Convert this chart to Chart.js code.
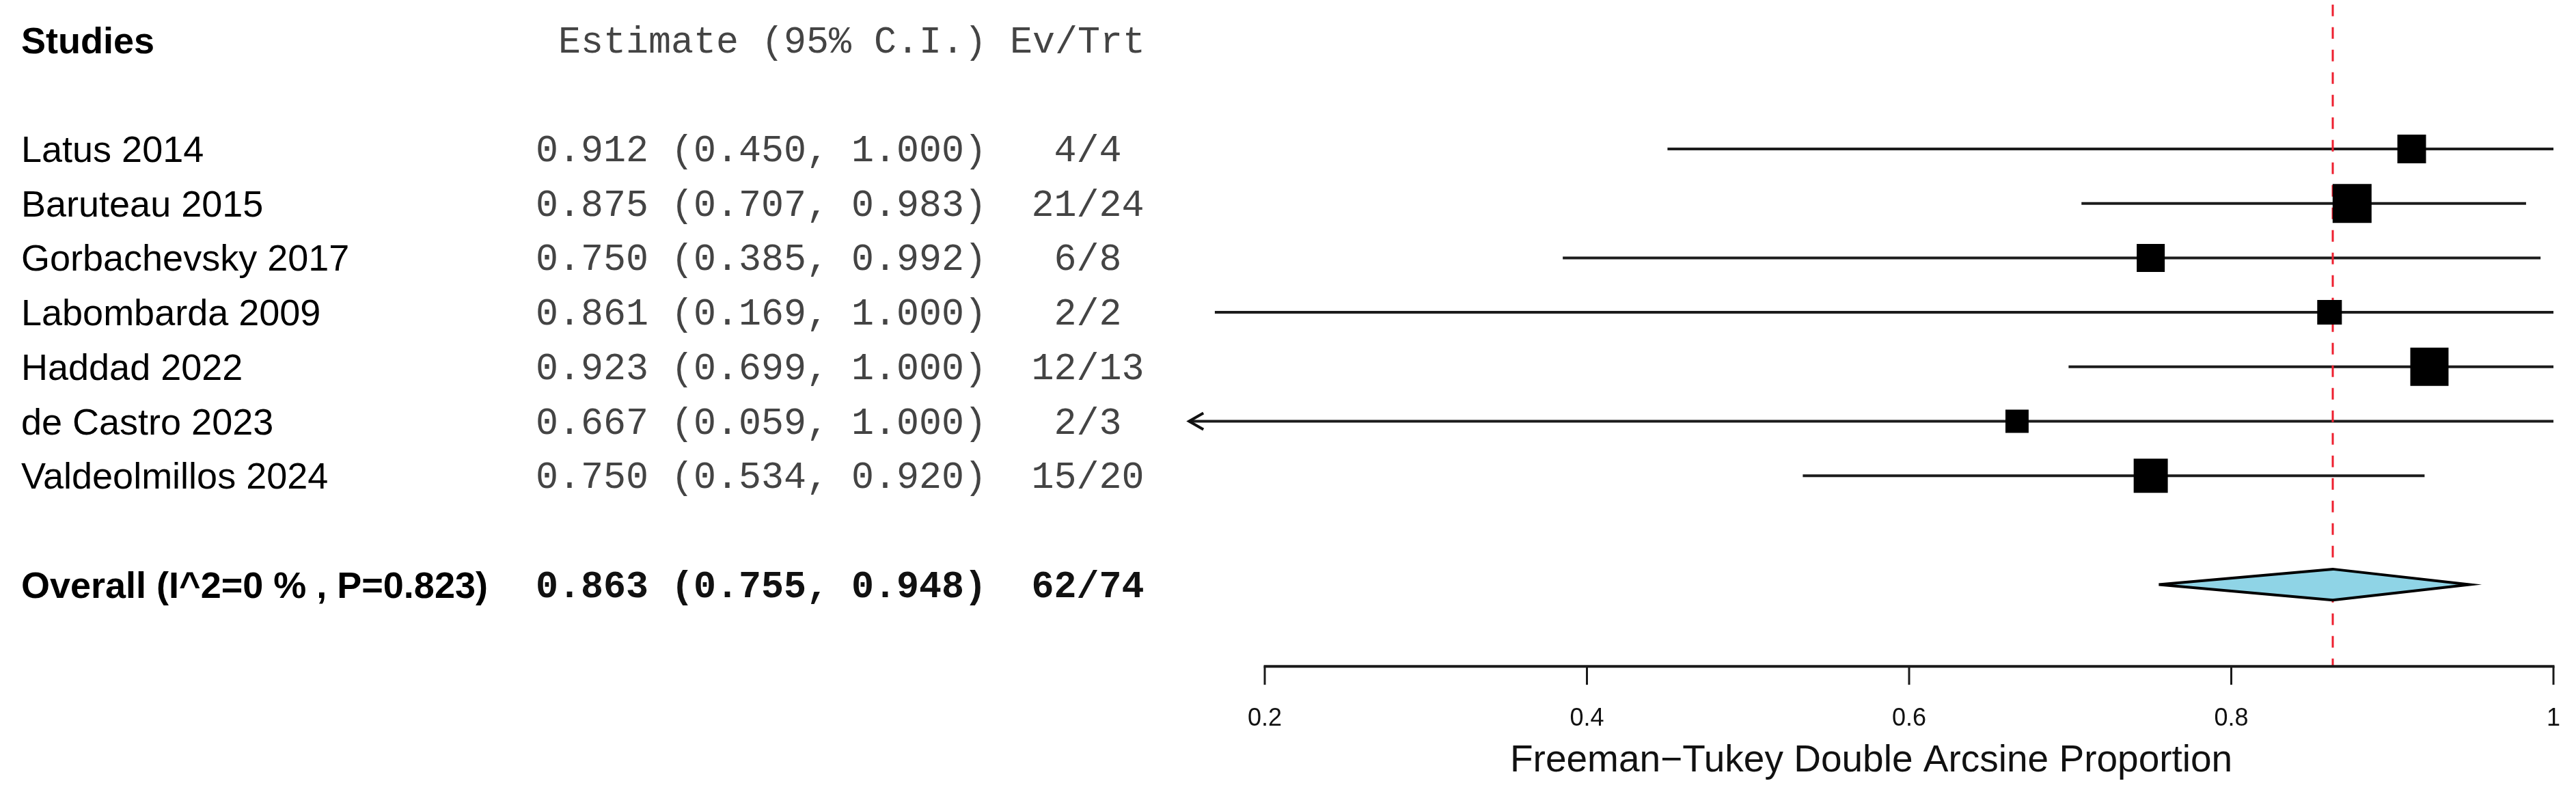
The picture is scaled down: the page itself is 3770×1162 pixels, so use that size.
<!DOCTYPE html>
<html>
<head>
<meta charset="utf-8">
<script src="https://cdn.jsdelivr.net/npm/chart.js@4/dist/chart.umd.min.js"></script>
<style>
html,body{margin:0;padding:0;background:#ffffff;overflow:hidden}
#wrap{width:3770px;height:1162px;position:relative}
</style>
</head>
<body>
<div id="wrap"><canvas id="c" width="3770" height="1162"></canvas></div>
<script>
// ---------------- data ----------------
const studies = ['Latus 2014','Baruteau 2015','Gorbachevsky 2017','Labombarda 2009','Haddad 2022','de Castro 2023','Valdeolmillos 2024'];
const estimates = [0.912, 0.875, 0.750, 0.861, 0.923, 0.667, 0.750];
const lowerCI   = [0.450, 0.707, 0.385, 0.169, 0.699, 0.059, 0.534];
const upperCI   = [1.000, 0.983, 0.992, 1.000, 1.000, 1.000, 0.920];
const events    = [4, 21, 6, 2, 12, 2, 15];
const totals    = [4, 24, 8, 2, 13, 3, 20];
const weights   = [11.9, 22.0, 11.4, 8.8, 21.2, 7.8, 16.9];   // relative study weights (%)
const overallLabel = 'Overall (I^2=0 % , P=0.823)';
const overallEstimate = [0.863, 0.755, 0.948];                // estimate, lower, upper
const overallCounts = [62, 74];
const xTicks = [0.2, 0.4, 0.6, 0.8, 1];
const xTickLabels = ['0.2', '0.4', '0.6', '0.8', '1'];
const xLimits = [0.153, 1.0];
const xTitle = 'Freeman\u2212Tukey Double Arcsine Proportion';
const headers = ['Studies', 'Estimate (95% C.I.)', 'Ev/Trt'];

// ---------------- layout / style ----------------
const HEADER_ROW = 0, FIRST_ROW = 2, OVERALL_ROW = 10, AXIS_ROW = 11.5;
const LABEL_X = 31, EST_RIGHT_X = 1444, EV_HEADER_X = 1478, COUNT_CENTER_X = 1592;
const SANS = '"Liberation Sans", Arial, Helvetica, sans-serif';
const MONO = '"Liberation Mono", "Courier New", monospace';
const BOX_K = 12.15;            // box side (px) per sqrt(weight)
const DIAMOND_HALF = 0.285;     // in row units

const rowOf = i => FIRST_ROW + i;
const fmt = v => v.toFixed(3);

const ciDatasets = studies.map((s, i) => ({
  type: 'line',
  data: [{x: Math.max(lowerCI[i], xLimits[0]), y: rowOf(i)}, {x: Math.min(upperCI[i], xLimits[1]), y: rowOf(i)}],
  borderColor: '#1c1c1c', borderWidth: 4, pointRadius: 0, fill: false, order: 5
}));

const refLine = {
  type: 'line',
  data: [{x: overallEstimate[0], y: -0.65}, {x: overallEstimate[0], y: AXIS_ROW}],
  borderColor: '#ee1f2f', borderWidth: 3, borderDash: [17, 16], pointRadius: 0, fill: false, order: 4
};

const boxes = {
  type: 'scatter',
  data: estimates.map((e, i) => ({x: e, y: rowOf(i)})),
  pointStyle: 'rect',
  pointRadius: weights.map(w => BOX_K * Math.sqrt(w) / Math.SQRT2),
  pointHoverRadius: weights.map(w => BOX_K * Math.sqrt(w) / Math.SQRT2),
  backgroundColor: '#000000', borderColor: '#000000', borderWidth: 0, order: 2
};

const diamond = {
  type: 'line',
  data: [
    {x: overallEstimate[1], y: OVERALL_ROW},
    {x: overallEstimate[0], y: OVERALL_ROW - DIAMOND_HALF},
    {x: overallEstimate[2], y: OVERALL_ROW},
    {x: overallEstimate[0], y: OVERALL_ROW + DIAMOND_HALF},
    {x: overallEstimate[1], y: OVERALL_ROW}
  ],
  borderColor: '#000000', borderWidth: 4, backgroundColor: '#8fd4e6',
  fill: 'shape', pointRadius: 0, tension: 0, borderJoinStyle: 'miter', order: 1
};

const forestText = {
  id: 'forestText',
  afterDatasetsDraw(chart) {
    const ctx = chart.ctx, xs = chart.scales.x, ys = chart.scales.y;
    ctx.save();
    // axis
    const ay = ys.getPixelForValue(AXIS_ROW);
    ctx.strokeStyle = '#1a1a1a';
    ctx.lineWidth = 4;
    ctx.beginPath();
    ctx.moveTo(xs.getPixelForValue(xTicks[0]) - 1.5, ay);
    ctx.lineTo(xs.getPixelForValue(xTicks[xTicks.length - 1]) + 1.5, ay);
    ctx.stroke();
    ctx.lineWidth = 3;
    xTicks.forEach(t => {
      const px = xs.getPixelForValue(t);
      ctx.beginPath(); ctx.moveTo(px, ay); ctx.lineTo(px, ay + 27); ctx.stroke();
    });
    ctx.fillStyle = '#111111';
    ctx.font = '36px ' + SANS;
    ctx.textAlign = 'center';
    ctx.textBaseline = 'alphabetic';
    xTicks.forEach((t, k) => ctx.fillText(xTickLabels[k], xs.getPixelForValue(t), ay + 87));
    ctx.font = '55px ' + SANS;
    ctx.fillText(xTitle, (xs.getPixelForValue(xLimits[0]) + xs.getPixelForValue(xLimits[1])) / 2, ay + 154);

    // arrows for truncated CIs
    ctx.strokeStyle = '#111111'; ctx.lineWidth = 4;
    studies.forEach((s, i) => {
      const py = ys.getPixelForValue(rowOf(i));
      if (lowerCI[i] < xLimits[0]) {
        const px = xs.getPixelForValue(xLimits[0]);
        ctx.beginPath(); ctx.moveTo(px + 21, py - 12); ctx.lineTo(px, py); ctx.lineTo(px + 21, py + 12); ctx.stroke();
      }
      if (upperCI[i] > xLimits[1]) {
        const px = xs.getPixelForValue(xLimits[1]);
        ctx.beginPath(); ctx.moveTo(px - 21, py - 12); ctx.lineTo(px, py); ctx.lineTo(px - 21, py + 12); ctx.stroke();
      }
    });

    // headers
    const hy = ys.getPixelForValue(HEADER_ROW);
    ctx.textAlign = 'left';
    ctx.fillStyle = '#000000';
    ctx.font = 'bold 54px ' + SANS;
    ctx.fillText(headers[0], LABEL_X, hy + 19);
    ctx.fillStyle = '#444444';
    ctx.font = '55px ' + MONO;
    ctx.textAlign = 'right';
    ctx.fillText(headers[1], EST_RIGHT_X, hy + 18);
    ctx.textAlign = 'left';
    ctx.fillText(headers[2], EV_HEADER_X, hy + 18);

    // study rows
    studies.forEach((s, i) => {
      const py = ys.getPixelForValue(rowOf(i));
      ctx.fillStyle = '#000000';
      ctx.font = '54px ' + SANS;
      ctx.textAlign = 'left';
      ctx.fillText(s, LABEL_X, py + 19);
      ctx.fillStyle = '#444444';
      ctx.font = '55px ' + MONO;
      ctx.textAlign = 'right';
      ctx.fillText(fmt(estimates[i]) + ' (' + fmt(lowerCI[i]) + ', ' + fmt(upperCI[i]) + ')', EST_RIGHT_X, py + 18);
      ctx.textAlign = 'center';
      ctx.fillText(events[i] + '/' + totals[i], COUNT_CENTER_X, py + 18);
    });

    // overall row
    const oy = ys.getPixelForValue(OVERALL_ROW);
    ctx.fillStyle = '#000000';
    ctx.font = 'bold 54px ' + SANS;
    ctx.textAlign = 'left';
    ctx.fillText(overallLabel, LABEL_X, oy + 19);
    ctx.fillStyle = '#111111';
    ctx.font = 'bold 55px ' + MONO;
    ctx.textAlign = 'right';
    ctx.fillText(fmt(overallEstimate[0]) + ' (' + fmt(overallEstimate[1]) + ', ' + fmt(overallEstimate[2]) + ')', EST_RIGHT_X, oy + 18);
    ctx.textAlign = 'center';
    ctx.fillText(overallCounts[0] + '/' + overallCounts[1], COUNT_CENTER_X, oy + 18);
    ctx.restore();
  }
};

// pixel mapping: 0.2 -> 1851px, 1.0 -> 3737px ; row 2 -> 218px, row spacing 79.7px
const PX_PER_UNIT = (3737 - 1851) / 0.8;
const ROW_PX = 79.7, ROW0_PX = 218 - 2 * ROW_PX;

new Chart(document.getElementById('c'), {
  type: 'scatter',
  data: { datasets: [...ciDatasets, refLine, boxes, diamond] },
  options: {
    responsive: false,
    maintainAspectRatio: false,
    devicePixelRatio: 1,
    animation: false,
    events: [],
    layout: { padding: 0, autoPadding: false },
    plugins: { legend: { display: false }, tooltip: { enabled: false }, title: { display: false } },
    scales: {
      x: { type: 'linear', display: false,
           min: 0.2 - 1851 / PX_PER_UNIT, max: 1.0 + (3770 - 3737) / PX_PER_UNIT },
      y: { type: 'linear', display: false, reverse: true,
           min: -ROW0_PX / ROW_PX, max: (1162 - ROW0_PX) / ROW_PX }
    }
  },
  plugins: [forestText]
});
</script>
</body>
</html>
